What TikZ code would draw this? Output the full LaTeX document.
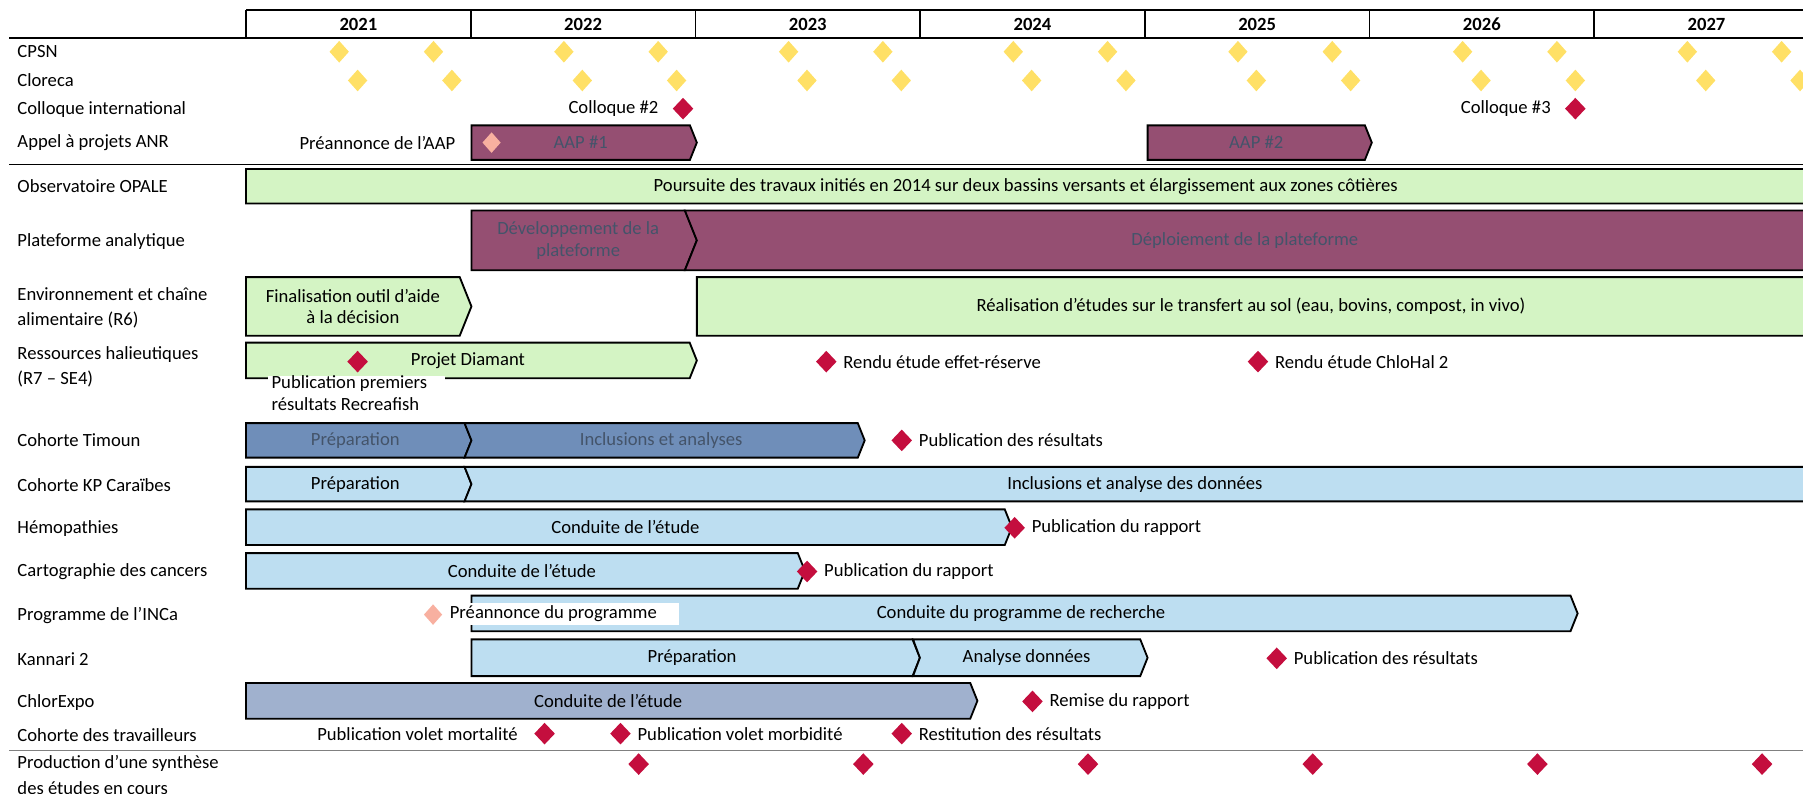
\documentclass[tikz,border=0pt]{standalone}
\usepackage{fontspec}
\setmainfont{Carlito}
\usepackage{tikz}
\usetikzlibrary{shapes.geometric}

\definecolor{diamyellow}{RGB}{255,224,102}
\definecolor{diamred}{RGB}{196,14,62}
\definecolor{diampink}{RGB}{248,176,160}
\definecolor{plum}{RGB}{149,79,114}
\definecolor{slate}{RGB}{68,84,106}
\definecolor{palegreen}{RGB}{212,244,196}
\definecolor{paleblue}{RGB}{189,222,241}
\definecolor{timounblue}{RGB}{111,142,185}
\definecolor{greyblue}{RGB}{160,177,206}

\tikzset{
  rowlabel/.style={anchor=west, align=left, inner sep=0pt,
    font=\fontsize{16.2}{22}\selectfont},
  yearlabel/.style={font=\fontsize{16.2}{19}\selectfont\bfseries, inner sep=0pt},
  yellowdiam/.style={diamond, fill=diamyellow, inner sep=0pt,
    minimum width=17pt, minimum height=19pt},
  reddiam/.style={diamond, fill=diamred, inner sep=0pt,
    minimum width=18pt, minimum height=19pt},
  pinkdiam/.style={diamond, fill=diampink, inner sep=0pt,
    minimum width=16pt, minimum height=18pt},
  bartext/.style={align=center, inner sep=0pt, draw=none, fill=none},
  plumbar/.style={fill=plum, draw=black, line width=1.6pt, text=slate},
  greenbar/.style={fill=palegreen, draw=black, line width=1.6pt, text=black},
  bluebar/.style={fill=paleblue, draw=black, line width=1.6pt, text=black},
  timounbar/.style={fill=timounblue, draw=black, line width=1.6pt, text=slate},
  greybluebar/.style={fill=greyblue, draw=black, line width=1.6pt, text=black},
  whitebox/.style={fill=white, inner ysep=0pt, inner xsep=3pt, align=flush left}
}

% chevron bar: name, style, x start, x tip, top, bottom, notch, text
\newcommand{\ganttbar}[8]{%
  \pgfmathsetmacro{\chevdepth}{0.2*(#6-#5)}
  \path[#2] (#3,#5) -- ({#4-\chevdepth},#5) -- (#4,{(#5+#6)/2})
    -- ({#4-\chevdepth},#6) -- (#3,#6) -- ({#3+#7},{(#5+#6)/2}) -- cycle;
  \node[#2, bartext] (#1) at ({(#3+#4-\chevdepth)/2},{(#5+#6)/2}) {#8};
}

\begin{document}
\begin{tikzpicture}[x=1pt, y=-1pt, text=black, font=\fontsize{16.2}{19}\selectfont]
\useasboundingbox (0,0) rectangle (1568,690.5);

% years
\draw[line width=1.3pt] (214,8.5) -- (1590,8.5);
\foreach \k in {0,...,6}
  \draw[line width=1.3pt] ({214+195.4*\k},8.5) -- ({214+195.4*\k},33);
\draw[line width=1.8pt] (8,33) -- (1590,33);
\foreach \yr [count=\k from 0] in {2021,...,2027}
  \node[yearlabel] (y\yr) at ({214+195.4*\k+97.7},21) {\yr};

% row labels
\node[rowlabel] (cpsn) at (15,45) {CPSN};
\node[rowlabel] (cloreca) at (15,70) {Cloreca};
\node[rowlabel] (colloque) at (15,95) {Colloque international};
\node[rowlabel] (anr) at (15,124) {Appel à projets ANR};
\node[rowlabel] (opale) at (15,162) {Observatoire OPALE};
\node[rowlabel] (plateforme) at (15,210) {Plateforme analytique};
\node[rowlabel] (envchaine) at (15,268) {Environnement et chaîne\\alimentaire (R6)};
\node[rowlabel] (halieut) at (15,319) {Ressources halieutiques\\(R7 – SE4)};
\node[rowlabel] (timoun) at (15,383) {Cohorte Timoun};
\node[rowlabel] (kpcar) at (15,422) {Cohorte KP Caraïbes};
\node[rowlabel] (hemopath) at (15,460) {Hémopathies};
\node[rowlabel] (cartocan) at (15,497) {Cartographie des cancers};
\node[rowlabel] (incaprog) at (15,535) {Programme de l’INCa};
\node[rowlabel] (kannari) at (15,573) {Kannari 2};
\node[rowlabel] (chlorex) at (15,611) {ChlorExpo};
\node[rowlabel] (travail) at (15,639) {Cohorte des travailleurs};
\node[rowlabel] (synthese) at (15,674) {Production d’une synthèse\\des études en cours};

% separators
\draw[line width=1.5pt] (8,143) -- (1590,143);
\draw[gray, line width=1.2pt] (8,652.5) -- (1590,652.5);

% CPSN and Cloreca
\foreach \k in {0,...,6} {
  \node[yellowdiam] (cpsn-a\k) at ({214+195.4*\k+81},45) {};
  \node[yellowdiam] (cpsn-b\k) at ({214+195.4*\k+163},45) {};
  \node[yellowdiam] (clor-a\k) at ({214+195.4*\k+97},70) {};
  \node[yellowdiam] (clor-b\k) at ({214+195.4*\k+179},70) {};
}

% colloques
\node[reddiam] (coll2) at (594,94.5) {};
\path (coll2.west)+(-12,0) node (coll2lbl) [anchor=east, inner sep=0pt] {Colloque \#2};
\node[reddiam] (coll3) at (1370,94.5) {};
\path (coll3.west)+(-12,0) node (coll3lbl) [anchor=east, inner sep=0pt] {Colloque \#3};

% ANR
\ganttbar{aap1}{plumbar}{410}{606}{109}{139}{0}{AAP \#1}
\ganttbar{aap2}{plumbar}{998}{1193}{109}{139}{0}{AAP \#2}
\node[pinkdiam] (aapann) at (427.5,124) {};
\node (aapannlbl) [anchor=east, inner sep=0pt] at (396,124) {Préannonce de l’AAP};

% OPALE
\ganttbar{opalebar}{greenbar}{214}{1576}{147}{177}{0}{Poursuite des travaux initiés en 2014 sur deux bassins versants et élargissement aux zones côtières}

% plateforme
\ganttbar{devplat}{plumbar}{410}{606}{183}{235}{0}{Développement de la\\plateforme}
\ganttbar{deplplat}{plumbar}{595.6}{1580}{183}{235}{10.4}{Déploiement de la plateforme}

% environnement
\ganttbar{finoutil}{greenbar}{214}{410}{241}{292}{0}{Finalisation outil d’aide\\à la décision}
\ganttbar{transsol}{greenbar}{606}{1580}{241}{292}{0}{Réalisation d’études sur le transfert au sol (eau, bovins, compost, in vivo)}

% halieutiques
\ganttbar{diamant}{greenbar}{214}{606}{298}{329}{0}{Projet Diamant}
\node[whitebox, anchor=north west, text width=148pt] (recreafish) at (233,326.5)
  {Publication premiers\\résultats Recreafish};
\node[reddiam] (recpub) at (311,314.5) {};
\node[reddiam] (effres) at (718.6,314.5) {};
\path (effres.east)+(5.5,0) node (effreslbl) [anchor=west, inner sep=0pt] {Rendu étude effet-réserve};
\node[reddiam] (chlohal) at (1094,314.5) {};
\path (chlohal.east)+(5.5,0) node (chlohallbl) [anchor=west, inner sep=0pt] {Rendu étude ChloHal 2};

% Timoun
\ganttbar{timprep}{timounbar}{214}{410}{368}{398}{0}{Préparation}
\ganttbar{timincl}{timounbar}{404}{752}{368}{398}{6}{Inclusions et analyses}
\node[reddiam] (timpub) at (784.2,383) {};
\path (timpub.east)+(5.5,0) node (timpublbl) [anchor=west, inner sep=0pt] {Publication des résultats};

% KP Caraibes
\ganttbar{kpprep}{bluebar}{214}{410}{406}{436}{0}{Préparation}
\ganttbar{kpincl}{bluebar}{404}{1576}{406}{436}{6}{Inclusions et analyse des données}

% hemopathies
\ganttbar{hemo}{bluebar}{214}{880}{443}{474}{0}{Conduite de l’étude}
\node[reddiam] (hemopub) at (882.4,459) {};
\path (hemopub.east)+(5.5,0) node (hemopublbl) [anchor=west, inner sep=0pt] {Publication du rapport};

% cartographie
\ganttbar{carto}{bluebar}{214}{700}{481}{512}{0}{Conduite de l’étude}
\node[reddiam] (cartopub) at (701.9,497) {};
\path (cartopub.east)+(5.5,0) node (cartopublbl) [anchor=west, inner sep=0pt] {Publication du rapport};

% INCa
\ganttbar{inca}{bluebar}{410}{1372}{518}{549}{0}{Conduite du programme de recherche}
\node[whitebox, anchor=west, text width=196pt, minimum height=19.5pt] (incaannlbl) at (388,534)
  {Préannonce du programme};
\node[pinkdiam] (incaann) at (376.6,534.5) {};

% Kannari
\ganttbar{kanprep}{bluebar}{410}{800}{556}{588}{0}{Préparation}
\ganttbar{kanana}{bluebar}{794}{998}{556}{588}{6}{Analyse données}
\node[reddiam] (kanpub) at (1110.3,572.5) {};
\path (kanpub.east)+(5.5,0) node (kanpublbl) [anchor=west, inner sep=0pt] {Publication des résultats};

% ChlorExpo
\ganttbar{chlorexpo}{greybluebar}{214}{850}{594}{625}{0}{Conduite de l’étude}
\node[reddiam] (chlorpub) at (897.9,610) {};
\path (chlorpub.east)+(5.5,0) node (chlorpublbl) [anchor=west, inner sep=0pt] {Remise du rapport};

% travailleurs
\node[reddiam] (travmort) at (473.6,638) {};
\path (travmort.west)+(-14,0) node (travmortlbl) [anchor=east, inner sep=0pt] {Publication volet mortalité};
\node[reddiam] (travmorb) at (539.6,638) {};
\path (travmorb.east)+(5.5,0) node (travmorblbl) [anchor=west, inner sep=0pt] {Publication volet morbidité};
\node[reddiam] (travrest) at (784.2,638) {};
\path (travrest.east)+(5.5,0) node (travrestlbl) [anchor=west, inner sep=0pt] {Restitution des résultats};

% synthese
\foreach \k in {1,...,6}
  \node[reddiam] (synth\k) at ({214+195.4*\k+146},664.5) {};

\end{tikzpicture}
\end{document}
